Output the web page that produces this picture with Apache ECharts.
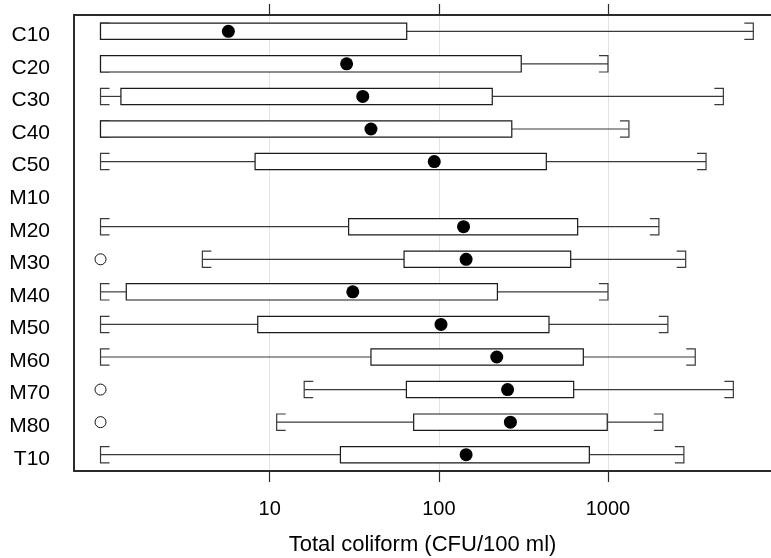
<!DOCTYPE html>
<html>
<head>
<meta charset="utf-8">
<script src="https://cdn.jsdelivr.net/npm/echarts@6/dist/echarts.min.js"></script>
<style>
  html, body { margin: 0; padding: 0; background: #fff; }
  #chart { width: 771px; height: 558px; }
</style>
</head>
<body>
<div id="chart"></div>
<script>
// Sites, top to bottom
const sites = ['C10', 'C20', 'C30', 'C40', 'C50', 'M10', 'M20', 'M30', 'M40', 'M50', 'M60', 'M70', 'M80', 'T10'];

// Summaries per site (CFU/100 ml); null = no data
const whiskerLow  = [1,    1,    1,    1,    1,    null, 1,    4,    1,    1,    1,    16,   11,   1];
const boxLow      = [1,    1,    1.32, 1,    8.2,  null, 29.3, 62.3, 1.42, 8.5,  39.7, 64.3, 71,   26.2];
const boxHigh     = [64.6, 307,  207,  270,  432,  null, 662,  602,  222,  448,  715,  627,  990,  776];
const whiskerHigh = [7230, 1000, 4810, 1330, 3800, null, 2000, 2880, 1000, 2260, 3280, 5510, 2110, 2810];
const centreDot   = [5.7,  28.5, 35.5, 39.7, 94,   null, 140,  145,  31,   103,  220,  255,  265,  145];

// Outlying observations
const outlierSites  = ['M30', 'M70', 'M80'];
const outlierValues = [1, 1, 1];

const xTicks = [10, 100, 1000];

const boxData = [];
sites.forEach((s, i) => {
  if (boxLow[i] == null) return;
  boxData.push([i, whiskerLow[i], boxLow[i], boxHigh[i], whiskerHigh[i]]);
});
const dotData = [];
sites.forEach((s, i) => {
  if (centreDot[i] != null) dotData.push([centreDot[i], s]);
});
const outlierData = outlierSites.map((s, i) => [outlierValues[i], s]);

function renderBox(params, api) {
  const idx = api.value(0);
  const band = api.size([0, 1])[1];
  const h = band * 0.5;
  const capLen = 9;
  const pLo = api.coord([api.value(1), idx]);
  const pQ1 = api.coord([api.value(2), idx]);
  const pQ3 = api.coord([api.value(3), idx]);
  const pHi = api.coord([api.value(4), idx]);
  const y = pQ1[1];
  const top = y - h / 2, bot = y + h / 2;
  const lineStyle = { stroke: '#3a3a3a', lineWidth: 1.2, fill: null };
  const children = [
    // lower whisker and bracket cap
    { type: 'line', shape: { x1: pLo[0], y1: y, x2: pQ1[0], y2: y }, style: lineStyle },
    { type: 'polyline', shape: { points: [[pLo[0] + capLen, top], [pLo[0], top], [pLo[0], bot], [pLo[0] + capLen, bot]] }, style: lineStyle },
    // upper whisker and bracket cap
    { type: 'line', shape: { x1: pQ3[0], y1: y, x2: pHi[0], y2: y }, style: lineStyle },
    { type: 'polyline', shape: { points: [[pHi[0] - capLen, top], [pHi[0], top], [pHi[0], bot], [pHi[0] - capLen, bot]] }, style: lineStyle },
    // box
    { type: 'rect', shape: { x: pQ1[0], y: top, width: pQ3[0] - pQ1[0], height: h },
      style: { fill: '#fff', stroke: '#1a1a1a', lineWidth: 1.2 } }
  ];
  return { type: 'group', children: children };
}

const chart = echarts.init(document.getElementById('chart'), null, { renderer: 'canvas' });

const axisFont = 'Liberation Sans, Arial, sans-serif';
const xMin = 0.697, xMax = 9200;

chart.setOption({
  animation: false,
  backgroundColor: '#fff',
  grid: { left: 74, top: 15, right: 0, bottom: 87, containLabel: false, outerBoundsMode: 'none' },
  xAxis: [
    {
      type: 'log', logBase: 10, position: 'bottom', min: xMin, max: xMax,
      axisLine: { show: true, lineStyle: { color: '#2b2b2b', width: 2 } },
      axisTick: { show: true, inside: false, length: 11, customValues: xTicks, lineStyle: { color: '#2b2b2b', width: 1.2 } },
      axisLabel: { show: true, customValues: xTicks, fontFamily: axisFont, fontSize: 20, color: '#000', margin: 28,
                   formatter: v => String(v) },
      splitLine: { show: true, lineStyle: { color: '#e3e3e3', width: 1 } },
      minorTick: { show: false },
      name: 'Total coliform (CFU/100 ml)', nameLocation: 'middle', nameGap: 63,
      nameTextStyle: { fontFamily: axisFont, fontSize: 22, color: '#000' }
    },
    {
      type: 'log', logBase: 10, position: 'top', min: xMin, max: xMax,
      axisLine: { show: true, lineStyle: { color: '#2b2b2b', width: 2 } },
      axisTick: { show: true, inside: false, length: 11, customValues: xTicks, lineStyle: { color: '#2b2b2b', width: 1.2 } },
      axisLabel: { show: false },
      splitLine: { show: false }
    }
  ],
  yAxis: {
    type: 'category', data: sites, inverse: true,
    axisLine: { show: true, lineStyle: { color: '#2b2b2b', width: 2 } },
    axisTick: { show: false },
    axisLabel: { fontFamily: axisFont, fontSize: 21, color: '#000', margin: 24,
                 verticalAlign: 'top', lineHeight: 8 },
    splitLine: { show: false }
  },
  series: [
    {
      type: 'custom', renderItem: renderBox, data: boxData,
      encode: { x: [1, 2, 3, 4], y: 0 }, z: 2
    },
    {
      type: 'scatter', data: dotData, symbol: 'circle', symbolSize: 13,
      itemStyle: { color: '#000', opacity: 1 }, z: 3
    },
    {
      type: 'scatter', data: outlierData, symbol: 'circle', symbolSize: 11,
      itemStyle: { color: '#fff', borderColor: '#111', borderWidth: 1, opacity: 1 }, z: 3
    }
  ]
});
</script>
</body>
</html>
